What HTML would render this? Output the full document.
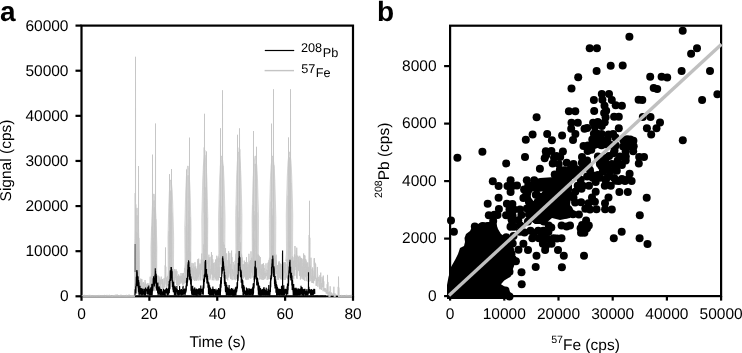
<!DOCTYPE html>
<html><head><meta charset="utf-8"><style>
html,body{margin:0;padding:0;background:#fff;}
svg{display:block;font-family:"Liberation Sans",sans-serif;}
svg{filter:grayscale(1);}
text{text-rendering:geometricPrecision;}
</style></head><body>
<svg width="742" height="353" viewBox="0 0 742 353">
<rect x="81.50" y="25.60" width="271.50" height="270.70" fill="none" stroke="#000" stroke-width="2.2"/>
<line x1="75.50" y1="296.30" x2="81.50" y2="296.30" stroke="#000" stroke-width="2.2"/>
<text x="68.50" y="301.10" text-anchor="end" font-size="15.5" font-weight="normal" >0</text>
<line x1="75.50" y1="251.18" x2="81.50" y2="251.18" stroke="#000" stroke-width="2.2"/>
<text x="68.50" y="256.08" text-anchor="end" font-size="15.5" font-weight="normal" >10000</text>
<line x1="75.50" y1="206.07" x2="81.50" y2="206.07" stroke="#000" stroke-width="2.2"/>
<text x="68.50" y="211.07" text-anchor="end" font-size="15.5" font-weight="normal" >20000</text>
<line x1="75.50" y1="160.95" x2="81.50" y2="160.95" stroke="#000" stroke-width="2.2"/>
<text x="68.50" y="166.05" text-anchor="end" font-size="15.5" font-weight="normal" >30000</text>
<line x1="75.50" y1="115.83" x2="81.50" y2="115.83" stroke="#000" stroke-width="2.2"/>
<text x="68.50" y="121.03" text-anchor="end" font-size="15.5" font-weight="normal" >40000</text>
<line x1="75.50" y1="70.72" x2="81.50" y2="70.72" stroke="#000" stroke-width="2.2"/>
<text x="68.50" y="76.02" text-anchor="end" font-size="15.5" font-weight="normal" >50000</text>
<line x1="75.50" y1="25.60" x2="81.50" y2="25.60" stroke="#000" stroke-width="2.2"/>
<text x="68.50" y="31.00" text-anchor="end" font-size="15.5" font-weight="normal" >60000</text>
<line x1="81.50" y1="296.30" x2="81.50" y2="300.80" stroke="#000" stroke-width="2.2"/>
<text x="81.50" y="318.90" text-anchor="middle" font-size="15.5" font-weight="normal" >0</text>
<line x1="149.38" y1="296.30" x2="149.38" y2="300.80" stroke="#000" stroke-width="2.2"/>
<text x="149.38" y="318.90" text-anchor="middle" font-size="15.5" font-weight="normal" >20</text>
<line x1="217.25" y1="296.30" x2="217.25" y2="300.80" stroke="#000" stroke-width="2.2"/>
<text x="217.25" y="318.90" text-anchor="middle" font-size="15.5" font-weight="normal" >40</text>
<line x1="285.12" y1="296.30" x2="285.12" y2="300.80" stroke="#000" stroke-width="2.2"/>
<text x="285.12" y="318.90" text-anchor="middle" font-size="15.5" font-weight="normal" >60</text>
<line x1="353.00" y1="296.30" x2="353.00" y2="300.80" stroke="#000" stroke-width="2.2"/>
<text x="353.00" y="318.90" text-anchor="middle" font-size="15.5" font-weight="normal" >80</text>
<text x="217.50" y="347.00" text-anchor="middle" font-size="15.5" font-weight="normal" >Time (s)</text>
<text transform="translate(11.2,160.5) rotate(-90)" text-anchor="middle" font-size="15.5">Signal (cps)</text>
<text x="0" y="21.1" font-size="28" font-weight="bold">a</text>
<line x1="264.8" y1="50.5" x2="294.2" y2="50.5" stroke="#000" stroke-width="1.2"/>
<line x1="264.6" y1="70.6" x2="294" y2="70.6" stroke="#c4c4c4" stroke-width="1.4"/>
<text x="301" y="52.3" font-size="12.7">208<tspan dx="0.6" dy="4.2">Pb</tspan></text>
<text x="301.3" y="72.6" font-size="12.7">57<tspan dx="0.4" dy="4.2">Fe</tspan></text>
<rect x="450.10" y="25.70" width="271.00" height="270.40" fill="none" stroke="#000" stroke-width="2.2"/>
<line x1="444.10" y1="296.10" x2="450.10" y2="296.10" stroke="#000" stroke-width="2.2"/>
<text x="436.60" y="300.70" text-anchor="end" font-size="15.5" font-weight="normal" >0</text>
<line x1="444.10" y1="238.60" x2="450.10" y2="238.60" stroke="#000" stroke-width="2.2"/>
<text x="436.60" y="243.20" text-anchor="end" font-size="15.5" font-weight="normal" >2000</text>
<line x1="444.10" y1="181.10" x2="450.10" y2="181.10" stroke="#000" stroke-width="2.2"/>
<text x="436.60" y="185.70" text-anchor="end" font-size="15.5" font-weight="normal" >4000</text>
<line x1="444.10" y1="123.60" x2="450.10" y2="123.60" stroke="#000" stroke-width="2.2"/>
<text x="436.60" y="128.20" text-anchor="end" font-size="15.5" font-weight="normal" >6000</text>
<line x1="444.10" y1="66.10" x2="450.10" y2="66.10" stroke="#000" stroke-width="2.2"/>
<text x="436.60" y="70.70" text-anchor="end" font-size="15.5" font-weight="normal" >8000</text>
<line x1="450.10" y1="296.10" x2="450.10" y2="300.60" stroke="#000" stroke-width="2.2"/>
<text x="450.10" y="318.90" text-anchor="middle" font-size="15.5" font-weight="normal" >0</text>
<line x1="504.30" y1="296.10" x2="504.30" y2="300.60" stroke="#000" stroke-width="2.2"/>
<text x="504.30" y="318.90" text-anchor="middle" font-size="15.5" font-weight="normal" >10000</text>
<line x1="558.50" y1="296.10" x2="558.50" y2="300.60" stroke="#000" stroke-width="2.2"/>
<text x="558.50" y="318.90" text-anchor="middle" font-size="15.5" font-weight="normal" >20000</text>
<line x1="612.70" y1="296.10" x2="612.70" y2="300.60" stroke="#000" stroke-width="2.2"/>
<text x="612.70" y="318.90" text-anchor="middle" font-size="15.5" font-weight="normal" >30000</text>
<line x1="666.90" y1="296.10" x2="666.90" y2="300.60" stroke="#000" stroke-width="2.2"/>
<text x="666.90" y="318.90" text-anchor="middle" font-size="15.5" font-weight="normal" >40000</text>
<line x1="721.10" y1="296.10" x2="721.10" y2="300.60" stroke="#000" stroke-width="2.2"/>
<text x="721.10" y="318.90" text-anchor="middle" font-size="15.5" font-weight="normal" >50000</text>
<text x="585.5" y="349.6" text-anchor="middle" font-size="15.5"><tspan font-size="10.6" dy="-7">57</tspan><tspan dy="7">Fe (cps)</tspan></text>
<text transform="translate(389,160.3) rotate(-90)" text-anchor="middle" font-size="15.5"><tspan font-size="10.6" dy="-7">208</tspan><tspan dy="7">Pb (cps)</tspan></text>
<text x="377" y="21.1" font-size="28" font-weight="bold">b</text>
<polygon points="134.30,290.25 134.84,282.25 134.66,257.62 135.38,233.00 135.92,218.00 136.70,208.00 137.30,208.00 138.08,218.00 138.62,233.00 139.34,257.62 139.16,282.25 139.70,290.25" fill="#dedede" stroke="#c8c8c8" stroke-width="0.7"/>
<polygon points="150.45,282.64 151.14,274.64 150.91,246.82 151.83,219.00 152.52,204.00 153.60,194.00 154.20,194.00 155.28,204.00 155.97,219.00 156.89,246.82 156.66,274.64 157.35,282.64" fill="#dedede" stroke="#c8c8c8" stroke-width="0.7"/>
<polygon points="167.50,279.15 168.16,271.15 167.94,238.07 168.82,205.00 169.48,190.00 170.50,180.00 171.10,180.00 172.12,190.00 172.78,205.00 173.66,238.07 173.44,271.15 174.10,279.15" fill="#dedede" stroke="#c8c8c8" stroke-width="0.7"/>
<polygon points="184.30,272.15 185.02,264.15 184.78,227.57 185.74,191.00 186.46,176.00 187.60,166.00 188.20,166.00 189.34,176.00 190.06,191.00 191.02,227.57 190.78,264.15 191.50,272.15" fill="#dedede" stroke="#c8c8c8" stroke-width="0.7"/>
<polygon points="201.35,263.57 202.04,255.57 201.81,217.79 202.73,180.00 203.42,165.00 204.50,155.00 205.10,155.00 206.18,165.00 206.87,180.00 207.79,217.79 207.56,255.57 208.25,263.57" fill="#dedede" stroke="#c8c8c8" stroke-width="0.7"/>
<polygon points="218.05,261.52 218.80,253.52 218.55,217.26 219.55,181.00 220.30,166.00 221.50,156.00 222.10,156.00 223.30,166.00 224.05,181.00 225.05,217.26 224.80,253.52 225.55,261.52" fill="#dedede" stroke="#c8c8c8" stroke-width="0.7"/>
<polygon points="235.20,261.95 235.92,253.95 235.68,215.47 236.64,177.00 237.36,162.00 238.50,152.00 239.10,152.00 240.24,162.00 240.96,177.00 241.92,215.47 241.68,253.95 242.40,261.95" fill="#dedede" stroke="#c8c8c8" stroke-width="0.7"/>
<polygon points="251.55,263.48 252.30,255.48 252.05,218.24 253.05,181.00 253.80,166.00 255.00,156.00 255.60,156.00 256.80,166.00 257.55,181.00 258.55,218.24 258.30,255.48 259.05,263.48" fill="#dedede" stroke="#c8c8c8" stroke-width="0.7"/>
<polygon points="268.85,264.00 269.60,256.00 269.35,218.50 270.35,181.00 271.10,166.00 272.30,156.00 272.90,156.00 274.10,166.00 274.85,181.00 275.85,218.50 275.60,256.00 276.35,264.00" fill="#dedede" stroke="#c8c8c8" stroke-width="0.7"/>
<polygon points="285.75,261.00 286.50,253.00 286.25,215.00 287.25,177.00 288.00,162.00 289.20,152.00 289.80,152.00 291.00,162.00 291.75,177.00 292.75,215.00 292.50,253.00 293.25,261.00" fill="#dedede" stroke="#c8c8c8" stroke-width="0.7"/>
<line x1="82.6" y1="296.3" x2="135" y2="296.3" stroke="#b4b4b4" stroke-width="2.4"/>
<line x1="326" y1="296.3" x2="352" y2="296.3" stroke="#b4b4b4" stroke-width="2.4"/>
<polyline points="82.00,296.18 82.30,295.25 82.60,295.34 82.90,295.84 83.20,295.99 83.50,295.83 83.80,295.80 84.10,296.16 84.40,295.68 84.70,294.91 85.00,295.10 85.30,296.13 85.60,295.72 85.90,296.10 86.20,295.93 86.50,295.88 86.80,295.62 87.10,296.06 87.40,296.09 87.70,295.72 88.00,295.59 88.30,295.14 88.60,295.92 88.90,295.73 89.20,294.86 89.50,295.63 89.80,295.87 90.10,295.36 90.40,295.16 90.70,296.17 91.00,295.57 91.30,296.04 91.60,295.68 91.90,295.93 92.20,295.70 92.50,295.99 92.80,295.82 93.10,295.47 93.40,296.06 93.70,295.63 94.00,295.96 94.30,296.03 94.60,295.43 94.90,295.30 95.20,295.74 95.50,295.61 95.80,294.99 96.10,296.11 96.40,295.83 96.70,295.68 97.00,295.23 97.30,295.62 97.60,295.76 97.90,295.92 98.20,295.53 98.50,295.27 98.80,295.77 99.10,295.78 99.40,294.96 99.70,295.96 100.00,296.02 100.30,295.65 100.60,295.89 100.90,296.19 101.20,295.96 101.50,295.59 101.80,295.78 102.10,296.13 102.40,295.86 102.70,295.83 103.00,295.44 103.30,295.78 103.60,296.08 103.90,295.76 104.20,295.32 104.50,294.95 104.80,295.10 105.10,295.58 105.40,295.87 105.70,296.13 106.00,295.50 106.30,295.32 106.60,295.32 106.90,295.80 107.20,295.29 107.50,295.08 107.80,295.99 108.10,295.28 108.40,296.03 108.70,295.14 109.00,294.78 109.30,294.96 109.60,295.80 109.90,295.71 110.20,295.09 110.50,295.91 110.80,295.68 111.10,295.99 111.40,296.19 111.70,296.06 112.00,295.69 112.30,295.93 112.60,295.98 112.90,296.13 113.20,296.04 113.50,295.30 113.80,295.86 114.10,295.36 114.40,296.07 114.70,295.19 115.00,295.27 115.30,295.83 115.60,294.72 115.90,296.16 116.20,295.88 116.50,295.19 116.80,295.27 117.10,294.40 117.40,295.63 117.70,295.75 118.00,295.78 118.30,295.62 118.60,296.01 118.90,295.96 119.20,296.07 119.50,295.43 119.80,296.18 120.10,295.56 120.40,295.91 120.70,295.97 121.00,294.70 121.30,295.19 121.60,295.64 121.90,295.79 122.20,295.79 122.50,295.82 122.80,295.27 123.10,295.63 123.40,295.49 123.70,296.12 124.00,295.71 124.30,295.69 124.60,295.86 124.90,295.41 125.20,295.82 125.50,296.14 125.80,296.02 126.10,295.96 126.40,294.85 126.70,296.15 127.00,296.04 127.30,295.44 127.60,295.80 127.90,295.75 128.20,295.69 128.50,294.79 128.80,295.67 129.10,294.92 129.40,294.71 129.70,295.63 130.00,295.93 130.30,295.88 130.60,295.81 130.90,295.82 131.20,296.06 131.50,296.08 131.80,295.15 132.10,296.08 132.40,295.68 132.70,296.11 133.00,295.87 133.30,295.77 133.60,295.63 133.90,295.98 134.20,295.98 134.50,290.59 134.66,290.70 134.82,290.04 134.98,295.19 135.14,291.97 135.20,193.07 135.30,295.22 135.46,284.92 135.50,56.80 135.62,294.76 135.78,287.95 135.80,204.43 135.94,274.89 136.10,276.38 136.26,274.48 136.42,289.30 136.58,232.36 136.74,292.01 136.90,293.56 137.06,215.37 137.22,238.04 137.38,260.79 137.54,265.88 137.70,285.78 137.86,281.87 138.02,282.76 138.18,288.47 138.20,232.40 138.34,290.35 138.50,288.76 138.50,166.00 138.66,281.80 138.80,237.93 138.82,278.36 138.98,292.12 139.14,282.36 139.30,289.61 139.46,288.94 139.62,284.65 139.78,280.13 139.94,282.15 140.10,282.90 140.26,280.53 140.42,287.25 140.58,284.07 140.74,278.62 140.90,280.61 141.06,291.79 141.22,283.36 141.38,288.40 141.54,279.47 141.70,285.46 141.86,279.23 142.02,291.79 142.18,282.60 142.34,290.33 142.50,288.51 142.66,290.33 142.82,291.84 142.98,287.68 143.14,291.59 143.30,285.13 143.46,290.71 143.62,282.06 143.78,289.60 143.94,285.20 144.10,291.49 144.26,291.22 144.42,286.21 144.58,283.64 144.74,291.46 144.90,291.69 145.06,280.01 145.22,285.27 145.38,284.02 145.54,282.49 145.70,290.72 145.86,287.69 146.02,288.44 146.18,284.14 146.34,290.79 146.50,291.18 146.66,285.66 146.82,289.07 146.98,288.56 147.14,287.55 147.30,283.12 147.46,287.95 147.62,290.75 147.78,284.02 147.94,286.14 148.10,286.23 148.26,286.65 148.42,285.86 148.58,290.96 148.74,288.47 148.90,283.19 149.06,286.21 149.22,288.14 149.38,288.91 149.54,288.75 149.70,291.44 149.86,288.63 150.02,288.24 150.18,276.69 150.34,285.96 150.50,286.79 150.66,283.96 150.82,289.15 150.98,285.82 151.14,291.19 151.30,286.44 151.46,280.39 151.62,278.11 151.78,280.52 151.94,273.40 152.10,291.13 152.20,226.57 152.26,277.01 152.42,290.33 152.50,154.70 152.58,278.86 152.74,283.84 152.80,232.56 152.90,284.66 153.06,288.12 153.22,270.06 153.38,282.32 153.54,241.89 153.70,238.36 153.86,284.07 154.02,200.49 154.18,245.03 154.34,207.04 154.50,290.29 154.66,220.65 154.82,246.23 154.98,291.13 155.14,261.86 155.20,211.84 155.30,281.85 155.46,286.28 155.50,123.60 155.62,288.10 155.78,281.98 155.80,219.19 155.94,264.64 156.10,279.42 156.26,284.04 156.42,284.36 156.58,278.74 156.74,288.79 156.90,288.47 157.06,275.67 157.22,290.27 157.38,286.48 157.54,289.08 157.70,287.24 157.86,282.88 158.02,275.52 158.18,279.35 158.34,279.32 158.50,290.89 158.66,285.78 158.82,288.94 158.98,276.43 159.14,277.00 159.30,283.53 159.46,284.09 159.62,281.44 159.78,278.48 159.94,288.35 160.10,285.68 160.26,279.93 160.42,289.04 160.58,279.73 160.74,290.07 160.90,280.21 161.06,279.10 161.22,276.63 161.38,282.58 161.54,283.18 161.70,284.18 161.86,282.20 162.02,279.20 162.18,288.44 162.34,280.67 162.50,279.08 162.66,289.82 162.82,279.30 162.98,279.04 163.14,282.02 163.30,282.49 163.46,285.55 163.62,288.96 163.78,287.71 163.94,284.09 164.10,278.07 164.26,279.14 164.42,278.94 164.58,287.11 164.74,286.57 164.90,287.49 165.06,285.41 165.20,265.24 165.22,278.51 165.38,274.98 165.50,247.50 165.54,277.50 165.70,277.68 165.80,266.72 165.86,283.68 166.02,284.51 166.18,281.73 166.34,277.78 166.50,283.43 166.66,287.26 166.82,278.01 166.98,278.49 167.14,277.22 167.30,286.18 167.46,276.05 167.62,278.52 167.78,280.11 167.94,284.55 168.10,282.13 168.26,277.47 168.42,286.93 168.58,284.78 168.74,280.05 168.90,287.86 169.06,287.44 169.20,231.14 169.22,285.43 169.38,270.98 169.50,174.20 169.54,276.02 169.70,272.58 169.80,235.89 169.86,285.81 170.02,288.38 170.18,247.09 170.34,254.98 170.50,199.77 170.66,257.38 170.82,190.52 170.98,230.95 171.14,283.03 171.20,209.30 171.30,249.67 171.46,275.28 171.50,169.00 171.62,276.26 171.78,246.93 171.80,212.66 171.94,268.80 172.10,270.49 172.26,287.04 172.42,270.85 172.58,287.61 172.74,282.44 172.90,271.04 173.06,285.48 173.22,287.34 173.38,285.90 173.54,283.32 173.70,283.76 173.86,277.06 174.02,285.90 174.18,282.12 174.34,286.23 174.50,285.50 174.66,269.04 174.82,272.59 174.98,280.26 175.14,275.84 175.30,271.35 175.46,278.13 175.62,272.86 175.78,276.89 175.94,271.80 176.10,269.30 176.26,283.05 176.42,277.14 176.58,285.09 176.74,280.27 176.90,271.12 177.06,278.41 177.22,278.16 177.38,285.80 177.54,275.88 177.70,284.32 177.86,278.25 178.02,284.66 178.18,284.02 178.34,285.50 178.50,283.03 178.66,274.40 178.82,285.79 178.98,284.57 179.14,279.73 179.30,275.75 179.46,281.66 179.62,284.34 179.78,280.22 179.94,282.61 180.10,278.62 180.26,280.91 180.42,276.44 180.58,283.52 180.74,280.46 180.90,276.12 181.06,273.00 181.22,282.56 181.38,275.96 181.54,281.77 181.70,280.94 181.86,281.63 182.02,283.55 182.18,283.35 182.34,274.71 182.50,284.73 182.66,273.44 182.82,277.51 182.98,279.11 183.14,273.55 183.30,284.36 183.46,272.92 183.62,281.90 183.78,284.25 183.94,275.57 184.10,276.92 184.26,283.29 184.42,276.27 184.58,278.88 184.74,282.01 184.90,267.97 185.06,275.91 185.22,281.15 185.38,282.86 185.54,269.64 185.70,282.68 185.86,277.89 186.02,263.11 186.18,270.55 186.20,226.37 186.34,273.86 186.50,278.95 186.50,169.50 186.66,265.98 186.80,231.11 186.82,282.44 186.98,251.22 187.14,283.06 187.30,264.29 187.46,277.71 187.62,282.69 187.78,264.23 187.94,246.97 188.10,175.31 188.26,280.08 188.42,225.31 188.58,224.49 188.74,272.87 188.90,244.80 189.06,255.69 189.20,210.95 189.22,281.16 189.38,274.50 189.50,137.70 189.54,277.36 189.70,263.61 189.80,217.06 189.86,264.14 190.02,280.57 190.18,280.00 190.34,278.29 190.50,251.80 190.66,277.56 190.82,272.27 190.98,267.31 191.14,271.08 191.30,265.76 191.46,267.01 191.62,281.25 191.78,281.06 191.94,262.90 192.10,269.45 192.26,278.58 192.42,273.37 192.58,268.01 192.74,269.41 192.90,274.92 193.06,277.20 193.22,263.30 193.38,279.82 193.54,269.41 193.70,274.70 193.86,271.15 194.02,273.62 194.18,266.72 194.34,281.01 194.50,280.65 194.66,279.67 194.82,276.22 194.98,262.29 195.14,280.12 195.30,280.59 195.46,269.06 195.62,266.46 195.78,279.45 195.94,270.48 196.10,277.51 196.26,279.60 196.42,268.61 196.58,272.03 196.74,280.90 196.90,271.15 197.06,279.96 197.22,274.04 197.38,266.35 197.54,278.35 197.70,276.39 197.86,259.14 198.02,268.67 198.18,260.92 198.34,275.39 198.50,276.96 198.66,258.68 198.82,280.50 198.98,279.79 199.14,264.91 199.30,266.66 199.46,274.38 199.62,269.45 199.78,266.33 199.94,263.43 200.10,277.92 200.26,279.73 200.42,270.87 200.58,270.95 200.74,263.90 200.90,280.52 201.06,266.87 201.22,259.56 201.38,263.90 201.54,270.01 201.70,253.60 201.86,264.01 202.02,264.31 202.18,269.88 202.34,275.54 202.50,262.14 202.66,279.27 202.82,280.11 202.98,258.75 203.14,266.22 203.30,260.11 203.46,280.81 203.62,273.11 203.78,244.41 203.94,251.39 204.10,279.64 204.20,147.48 204.26,212.59 204.42,185.94 204.50,113.80 204.58,266.81 204.74,159.21 204.80,150.29 204.90,276.23 205.06,261.70 205.22,187.27 205.38,258.31 205.54,263.53 205.70,239.24 205.86,250.62 206.02,247.52 206.18,272.13 206.20,212.72 206.34,266.91 206.50,276.16 206.50,151.50 206.66,261.92 206.80,217.82 206.82,255.74 206.98,273.42 207.14,279.86 207.30,272.49 207.46,276.62 207.62,269.08 207.78,270.58 207.94,278.87 208.10,261.47 208.26,276.96 208.42,274.32 208.58,258.61 208.74,256.85 208.90,254.68 209.06,272.33 209.22,258.65 209.38,257.36 209.54,260.78 209.70,268.81 209.86,279.85 210.02,270.92 210.18,270.73 210.34,278.42 210.50,268.24 210.66,267.23 210.82,264.44 210.98,256.76 211.14,264.33 211.30,272.71 211.46,252.07 211.62,274.41 211.78,263.83 211.94,269.96 212.10,254.95 212.26,280.23 212.42,268.47 212.58,275.17 212.74,259.25 212.90,273.15 213.06,273.69 213.22,277.80 213.38,275.03 213.54,263.09 213.70,272.13 213.86,280.37 214.02,273.75 214.18,263.79 214.34,262.52 214.50,276.99 214.66,274.21 214.82,275.04 214.98,274.17 215.14,278.20 215.30,272.45 215.46,267.17 215.62,259.58 215.78,278.84 215.94,271.33 216.10,280.32 216.26,259.48 216.42,272.48 216.58,278.37 216.74,255.75 216.90,280.50 217.06,276.15 217.22,278.86 217.38,277.55 217.54,267.49 217.70,273.24 217.86,258.40 218.02,280.49 218.18,256.51 218.34,271.14 218.50,280.06 218.66,266.94 218.82,268.23 218.98,271.27 219.14,257.95 219.30,270.22 219.46,277.94 219.62,266.90 219.78,275.99 219.94,270.48 220.10,262.09 220.20,200.32 220.26,264.52 220.42,251.32 220.50,128.30 220.58,260.45 220.74,242.17 220.80,206.32 220.90,243.34 221.06,239.85 221.22,223.53 221.38,217.85 221.54,249.64 221.70,253.14 221.86,276.06 222.02,273.86 222.18,184.36 222.20,160.18 222.34,240.52 222.50,199.18 222.50,90.30 222.66,274.02 222.80,166.00 222.82,264.07 222.98,243.86 223.14,242.15 223.30,275.45 223.46,276.31 223.62,253.57 223.78,274.48 223.94,277.93 224.10,244.60 224.26,261.33 224.42,263.32 224.58,257.24 224.74,278.91 224.90,263.16 225.06,274.24 225.22,259.25 225.38,260.08 225.54,248.22 225.70,273.39 225.86,264.98 226.02,267.91 226.18,268.05 226.34,273.66 226.50,278.62 226.66,253.36 226.82,258.03 226.98,263.43 227.14,279.22 227.30,277.86 227.46,266.64 227.62,280.33 227.78,280.29 227.94,260.21 228.10,263.21 228.26,277.51 228.42,268.79 228.58,251.17 228.74,275.74 228.90,262.77 229.06,273.47 229.22,273.44 229.38,260.62 229.54,267.54 229.70,261.51 229.86,252.90 230.02,260.82 230.18,277.61 230.34,264.68 230.50,273.85 230.66,279.02 230.82,274.88 230.98,263.73 231.14,279.14 231.30,266.81 231.46,252.05 231.62,250.64 231.78,263.00 231.94,257.10 232.10,280.15 232.26,279.90 232.42,269.15 232.58,273.36 232.74,270.11 232.90,273.24 233.06,264.09 233.22,262.06 233.38,275.75 233.54,272.51 233.70,275.04 233.86,277.11 234.02,279.78 234.18,275.83 234.34,278.04 234.50,279.11 234.66,264.61 234.82,275.65 234.98,262.71 235.14,261.09 235.30,263.96 235.46,266.95 235.62,279.00 235.78,280.22 235.94,253.58 236.10,260.41 236.26,261.00 236.42,266.30 236.58,279.01 236.74,271.15 236.90,279.03 237.06,260.27 237.20,205.41 237.22,276.25 237.38,271.92 237.50,134.80 237.54,256.02 237.70,264.57 237.80,211.29 237.86,264.53 238.02,260.87 238.18,237.87 238.34,234.26 238.50,232.87 238.66,239.97 238.82,217.61 238.98,255.21 239.14,247.83 239.20,147.65 239.30,151.23 239.46,237.07 239.50,128.40 239.62,184.26 239.78,234.30 239.80,149.25 239.94,208.98 240.10,253.33 240.26,277.20 240.42,242.46 240.58,265.21 240.74,267.87 240.90,253.64 241.06,270.63 241.22,268.00 241.38,272.64 241.54,254.61 241.70,265.53 241.86,269.65 242.02,257.40 242.18,274.06 242.34,274.21 242.50,273.45 242.66,264.39 242.82,273.70 242.98,274.93 243.14,270.29 243.30,273.90 243.46,278.48 243.62,274.48 243.78,263.97 243.94,273.81 244.10,275.69 244.26,260.63 244.42,266.34 244.58,262.90 244.74,277.29 244.90,267.44 245.06,275.48 245.22,269.44 245.38,261.99 245.54,279.32 245.70,279.31 245.86,279.54 246.02,266.81 246.18,263.40 246.34,278.94 246.50,257.17 246.66,271.36 246.82,280.05 246.98,277.61 247.14,262.22 247.30,279.54 247.46,269.02 247.62,267.06 247.78,268.99 247.94,276.65 248.10,263.87 248.26,267.62 248.42,276.62 248.58,279.49 248.74,266.42 248.90,253.83 249.06,255.41 249.22,267.86 249.38,264.86 249.54,278.14 249.70,265.13 249.86,261.30 250.02,277.64 250.18,270.11 250.34,272.74 250.50,260.04 250.66,277.25 250.82,278.75 250.98,251.34 251.14,259.13 251.30,261.10 251.46,272.57 251.62,258.14 251.78,264.17 251.94,257.75 252.10,277.63 252.26,260.16 252.42,273.43 252.58,263.46 252.74,275.16 252.90,265.98 253.06,260.32 253.20,204.88 253.22,257.14 253.38,262.02 253.50,131.00 253.54,279.96 253.70,257.72 253.80,211.04 253.86,255.27 254.02,255.61 254.18,238.73 254.34,275.01 254.50,276.41 254.66,267.46 254.82,215.14 254.98,230.21 255.14,165.34 255.30,163.75 255.46,167.07 255.62,187.35 255.78,211.37 255.94,257.13 256.10,279.23 256.20,207.43 256.26,241.27 256.42,261.16 256.50,146.80 256.58,268.39 256.74,253.82 256.80,212.48 256.90,272.60 257.06,261.04 257.22,279.59 257.38,258.19 257.54,272.72 257.70,278.07 257.86,263.07 258.02,254.32 258.18,276.38 258.34,255.11 258.50,262.32 258.66,267.03 258.82,268.64 258.98,263.67 259.14,273.30 259.30,255.79 259.46,261.45 259.62,279.51 259.78,276.40 259.94,276.21 260.10,274.39 260.26,257.06 260.42,270.17 260.58,275.83 260.74,279.10 260.90,279.23 261.06,264.74 261.22,265.76 261.38,275.13 261.54,268.56 261.70,279.49 261.86,277.67 262.02,266.28 262.18,263.95 262.34,279.86 262.50,278.52 262.66,264.03 262.82,264.09 262.98,275.84 263.14,277.79 263.30,273.09 263.46,263.28 263.62,279.83 263.78,265.62 263.94,265.00 264.10,270.50 264.26,268.11 264.42,274.78 264.58,273.11 264.74,279.17 264.90,271.23 265.06,271.07 265.22,278.29 265.38,273.03 265.54,276.00 265.70,276.45 265.86,265.94 266.02,263.33 266.18,270.55 266.34,269.73 266.50,276.04 266.66,274.58 266.82,272.90 266.98,277.43 267.14,279.76 267.30,279.97 267.46,276.46 267.62,269.68 267.78,278.69 267.94,262.73 268.10,268.72 268.26,265.37 268.42,279.31 268.58,261.77 268.74,274.59 268.90,269.67 269.06,259.95 269.22,270.31 269.38,277.25 269.54,278.97 269.70,278.58 269.86,257.73 270.02,266.40 270.18,262.98 270.34,279.56 270.50,265.00 270.66,257.74 270.82,258.86 270.98,276.10 271.14,273.12 271.20,201.73 271.30,280.00 271.46,270.13 271.50,123.70 271.62,257.50 271.78,246.51 271.80,208.23 271.94,240.48 272.10,276.73 272.26,277.52 272.42,245.97 272.58,274.04 272.74,215.56 272.90,220.82 273.06,261.37 273.20,159.58 273.22,179.95 273.38,201.23 273.50,89.30 273.54,250.23 273.70,265.68 273.80,165.44 273.86,265.24 274.02,273.28 274.18,266.93 274.34,254.03 274.50,275.05 274.66,268.19 274.82,261.58 274.98,279.64 275.14,256.15 275.30,279.96 275.46,274.28 275.62,272.26 275.78,260.19 275.94,269.01 276.10,254.71 276.26,264.00 276.42,261.67 276.58,272.94 276.74,273.99 276.90,270.72 277.06,279.95 277.22,279.14 277.38,271.31 277.54,264.99 277.70,276.93 277.86,275.94 278.02,277.67 278.18,272.24 278.34,279.59 278.50,262.48 278.66,279.66 278.82,267.77 278.98,271.67 279.14,261.15 279.30,274.26 279.46,277.73 279.62,275.91 279.78,262.83 279.94,274.26 280.10,276.17 280.26,272.55 280.42,263.77 280.58,279.28 280.74,267.72 280.90,277.63 281.06,264.05 281.22,267.20 281.38,275.71 281.54,278.61 281.70,278.94 281.86,265.42 282.02,279.91 282.18,267.67 282.34,253.49 282.50,279.90 282.66,277.19 282.82,263.61 282.98,276.06 283.14,270.09 283.30,276.30 283.46,262.65 283.62,264.95 283.78,278.85 283.94,279.86 284.10,279.78 284.26,262.28 284.42,268.60 284.58,270.79 284.74,273.21 284.90,262.09 285.06,261.99 285.22,279.92 285.38,262.56 285.54,263.52 285.70,265.76 285.86,264.05 286.02,266.69 286.18,277.81 286.34,273.81 286.50,274.68 286.66,274.24 286.82,273.06 286.98,274.35 287.14,258.96 287.30,279.12 287.46,273.11 287.62,263.82 287.78,266.55 287.94,261.86 288.10,263.50 288.20,195.73 288.26,253.89 288.42,276.45 288.50,137.50 288.58,243.93 288.74,230.80 288.80,200.59 288.90,263.33 289.06,186.14 289.22,185.19 289.38,157.45 289.54,247.43 289.70,243.77 289.86,276.90 290.02,269.57 290.18,224.86 290.20,176.04 290.34,279.88 290.50,239.81 290.50,89.30 290.66,269.64 290.80,183.27 290.82,270.26 290.98,275.91 291.14,257.97 291.30,258.20 291.46,275.84 291.62,279.62 291.78,262.27 291.94,271.88 292.10,257.59 292.26,273.81 292.42,256.28 292.58,270.07 292.74,263.03 292.90,257.06 293.06,269.93 293.22,279.19 293.38,260.96 293.54,263.09 293.70,279.29 293.86,260.77 294.02,270.13 294.18,274.64 294.34,262.51 294.50,254.48 294.66,259.21 294.82,275.91 294.98,245.99 295.14,262.54 295.30,264.66 295.46,265.58 295.62,266.87 295.78,256.97 295.94,255.65 296.10,270.01 296.26,261.62 296.42,250.30 296.58,278.03 296.74,247.66 296.90,258.56 297.06,278.96 297.22,271.88 297.38,272.21 297.54,270.32 297.70,255.55 297.86,261.20 298.02,266.41 298.18,264.15 298.34,270.29 298.50,256.79 298.66,270.21 298.82,269.17 298.98,271.16 299.14,262.31 299.30,273.51 299.46,276.02 299.62,268.37 299.78,255.81 299.94,274.15 300.10,273.92 300.26,258.83 300.42,279.62 300.58,257.53 300.74,278.80 300.90,261.39 301.06,263.54 301.22,277.16 301.38,276.30 301.54,258.10 301.70,262.18 301.86,260.14 302.02,272.20 302.18,278.80 302.34,266.20 302.50,267.92 302.66,275.68 302.82,258.82 302.98,258.91 303.14,279.39 303.30,262.93 303.46,279.55 303.62,253.48 303.78,256.60 303.94,255.27 304.10,275.99 304.26,255.17 304.42,266.98 304.58,273.76 304.74,280.90 304.90,255.58 305.06,268.89 305.22,270.35 305.38,276.36 305.54,260.74 305.70,259.02 305.86,277.34 306.02,264.55 306.18,260.49 306.34,281.11 306.50,263.26 306.66,263.25 306.82,264.47 306.98,273.91 307.14,262.93 307.30,275.19 307.46,267.44 307.62,276.13 307.78,262.31 307.94,268.72 308.10,281.56 308.26,270.75 308.42,266.77 308.58,272.19 308.74,270.56 308.90,275.64 309.06,275.85 309.20,234.97 309.22,272.46 309.38,281.58 309.50,200.80 309.54,259.13 309.70,277.12 309.80,237.82 309.86,277.66 310.02,267.92 310.18,275.13 310.34,270.14 310.50,265.78 310.66,276.83 310.82,281.23 310.98,257.73 311.14,272.73 311.30,274.45 311.46,279.36 311.62,276.77 311.78,276.26 311.94,282.85 312.10,269.07 312.26,274.10 312.42,282.94 312.58,267.44 312.74,282.39 312.90,270.56 313.06,282.28 313.22,275.99 313.38,280.38 313.54,283.12 313.70,283.30 313.86,267.35 314.02,265.63 314.18,258.28 314.34,265.41 314.50,258.30 314.66,280.77 314.82,271.59 314.98,278.34 315.14,262.77 315.30,266.91 315.46,278.80 315.62,264.16 315.78,268.66 315.94,274.33 316.10,285.73 316.26,282.52 316.42,278.82 316.58,285.85 316.74,284.68 316.90,277.65 317.06,283.43 317.22,281.04 317.38,266.98 317.54,273.48 317.70,274.36 317.86,286.80 318.02,283.70 318.18,280.82 318.34,279.58 318.50,280.67 318.66,280.25 318.82,276.80 318.98,283.85 319.14,284.94 319.30,287.37 319.46,288.24 319.62,289.07 319.78,282.47 319.94,275.23 320.10,289.26 320.26,278.35 320.42,281.72 320.58,276.81 320.74,272.64 320.90,289.08 321.06,287.33 321.22,286.89 321.38,283.26 321.54,289.80 321.70,288.02 321.86,286.38 322.02,276.79 322.18,283.66 322.34,287.21 322.50,286.61 322.66,286.97 322.82,284.88 322.98,278.54 323.14,291.28 323.30,275.61 323.46,286.60 323.62,285.96 323.78,281.34 323.94,286.18 324.10,290.34 324.26,288.60 324.42,288.09 324.58,291.16 324.74,291.24 324.90,290.92 325.06,291.79 325.22,291.90 325.38,289.08 325.54,288.91 325.70,288.16 325.86,291.78 326.02,289.79 326.18,293.45 326.34,292.67 326.50,292.88 326.66,293.22 326.82,289.64 326.98,291.31 327.14,293.84 327.20,284.18 327.30,292.95 327.46,292.90 327.50,274.90 327.62,283.18 327.78,294.50 327.80,284.96 327.94,282.13 328.10,291.13 328.26,293.80 328.42,293.93 328.58,292.05 328.74,295.15 328.90,292.15 329.06,294.21 329.22,292.69 329.38,291.53 329.54,293.81 329.70,295.69 329.86,295.81 330.02,293.12 330.18,286.26 330.34,292.74 330.50,295.57 330.66,293.82 330.82,292.74 330.98,293.91 331.14,294.49 331.30,292.50 331.46,294.41 331.62,293.66 331.78,293.83 331.94,293.43 332.10,295.72 332.26,294.14 332.42,295.86 332.58,295.09 332.74,295.01 332.90,294.07 333.06,293.81 333.22,292.91 333.38,293.22 333.54,293.48 333.70,294.70 333.86,286.76 334.02,294.23 334.18,295.99 334.34,296.07 334.50,294.54 334.66,295.75 334.82,293.25 334.98,293.57 335.14,296.10 335.30,295.37 335.46,295.47 335.62,295.44 335.78,294.91 335.94,294.47 336.00,294.73 336.30,295.62 336.60,295.96 336.90,295.94 337.20,295.07 337.50,295.43 337.80,295.15 338.10,295.53 338.20,286.77 338.40,295.98 338.50,276.60 338.70,295.79 338.80,287.62 339.00,295.86 339.30,296.12 339.60,295.47 339.90,296.01 340.20,295.84 340.50,296.17 340.80,296.08 341.10,295.91 341.40,296.14 341.70,295.23 342.00,295.34 342.30,295.85 342.60,295.86 342.90,295.89 343.20,295.58 343.50,295.73 343.80,295.70 344.10,295.64 344.40,295.80 344.70,296.06 345.00,295.66 345.30,295.49 345.60,295.57 345.90,295.98 346.20,295.98 346.50,294.83 346.80,295.65 347.10,296.08 347.40,295.47 347.70,295.34 348.00,296.08 348.30,295.43 348.60,295.84 348.90,295.49 349.20,295.64 349.50,295.73 349.80,295.46 350.10,295.59 350.40,295.46 350.70,295.48 351.00,295.96 351.30,294.66 351.60,295.02 351.90,295.47" fill="none" stroke="#c6c6c6" stroke-width="0.9" stroke-linejoin="bevel"/>
<polyline points="135.00,295.48 135.13,289.16 135.26,291.38 135.39,291.16 135.52,291.29 135.65,286.33 135.78,290.22 135.91,293.57 136.04,283.96 136.17,283.61 136.30,276.84 136.43,286.33 136.56,280.76 136.69,270.60 136.82,281.65 136.95,270.12 137.08,277.36 137.21,271.61 137.34,276.26 137.47,285.94 137.60,277.14 137.73,281.51 137.86,286.40 137.99,276.40 138.12,276.95 138.25,288.35 138.38,280.03 138.51,292.23 138.64,280.23 138.77,289.49 138.90,294.54 139.03,282.31 139.16,295.51 139.29,291.53 139.42,293.16 139.55,287.03 139.68,292.76 139.81,290.56 139.94,285.85 140.07,286.20 140.20,294.52 140.33,291.55 140.46,294.77 140.59,288.07 140.72,290.32 140.85,293.13 140.98,288.63 141.11,291.82 141.24,288.14 141.37,290.53 141.50,294.32 141.63,294.55 141.76,295.39 141.89,290.86 142.02,288.88 142.15,293.44 142.28,295.21 142.41,288.64 142.54,292.03 142.67,294.56 142.80,294.83 142.93,291.05 143.06,293.20 143.19,292.88 143.32,294.69 143.45,291.49 143.58,293.98 143.71,288.87 143.84,292.71 143.97,291.20 144.10,290.04 144.23,293.41 144.36,295.42 144.49,288.81 144.62,295.15 144.75,292.58 144.88,293.87 145.01,294.00 145.14,295.04 145.27,290.44 145.40,295.59 145.53,287.53 145.66,294.00 145.79,294.27 145.92,293.67 146.05,293.44 146.18,288.80 146.31,291.27 146.44,288.89 146.57,289.93 146.70,288.87 146.83,289.09 146.96,289.77 147.09,290.41 147.22,291.25 147.35,289.56 147.48,294.14 147.61,294.23 147.74,293.25 147.87,286.74 148.00,290.12 148.13,292.13 148.26,289.34 148.39,294.68 148.52,293.17 148.65,293.17 148.78,285.48 148.91,289.15 149.04,290.35 149.17,288.82 149.30,291.28 149.43,295.52 149.56,293.44 149.69,292.66 149.82,291.61 149.95,295.07 150.08,291.62 150.21,289.15 150.34,289.03 150.47,295.32 150.60,291.39 150.73,288.05 150.86,287.34 150.99,295.56 151.12,289.58 151.25,294.45 151.38,287.46 151.51,294.88 151.64,287.37 151.77,284.45 151.90,283.80 152.03,284.64 152.16,295.15 152.29,293.26 152.42,289.83 152.55,286.16 152.68,290.86 152.81,290.69 152.94,289.44 153.07,286.08 153.20,278.14 153.33,283.11 153.46,280.71 153.59,276.34 153.72,283.50 153.85,279.54 153.98,284.24 154.11,284.13 154.24,279.68 154.37,286.38 154.50,283.46 154.63,277.99 154.76,279.65 154.89,274.80 155.02,278.51 155.15,274.18 155.28,268.35 155.41,277.99 155.54,270.95 155.67,283.16 155.80,283.72 155.93,273.91 156.06,274.05 156.19,274.49 156.32,288.46 156.45,275.77 156.58,288.07 156.71,290.23 156.84,290.37 156.97,290.01 157.10,283.22 157.23,289.77 157.36,287.12 157.49,288.03 157.62,293.14 157.75,289.38 157.88,282.46 158.01,293.43 158.14,295.58 158.27,293.34 158.40,287.23 158.53,289.22 158.66,289.64 158.79,286.81 158.92,291.98 159.05,293.93 159.18,286.42 159.31,287.78 159.44,294.47 159.57,288.27 159.70,290.15 159.83,287.67 159.96,295.58 160.09,291.83 160.22,289.05 160.35,291.10 160.48,295.50 160.61,292.83 160.74,288.94 160.87,290.59 161.00,294.70 161.13,290.11 161.26,289.58 161.39,289.05 161.52,292.36 161.65,291.37 161.78,295.54 161.91,295.53 162.04,294.93 162.17,294.89 162.30,291.82 162.43,292.06 162.56,293.56 162.69,292.02 162.82,291.63 162.95,291.92 163.08,290.24 163.21,292.49 163.34,295.57 163.47,289.49 163.60,288.97 163.73,290.16 163.86,290.37 163.99,289.49 164.12,294.30 164.25,295.48 164.38,295.07 164.51,295.33 164.64,290.00 164.77,290.94 164.90,293.14 165.03,294.61 165.16,295.60 165.29,295.58 165.42,289.67 165.55,292.66 165.68,289.22 165.81,292.89 165.94,288.81 166.07,290.91 166.20,292.16 166.33,290.44 166.46,287.75 166.59,293.52 166.72,290.50 166.85,292.20 166.98,289.57 167.11,294.92 167.24,292.22 167.37,288.81 167.50,295.16 167.63,295.36 167.76,288.87 167.89,290.75 168.02,290.18 168.15,294.12 168.28,287.88 168.41,293.38 168.54,293.30 168.67,294.77 168.80,291.96 168.93,283.91 169.06,291.76 169.19,281.04 169.32,293.08 169.45,290.42 169.58,289.48 169.71,279.43 169.84,288.94 169.97,280.42 170.10,279.95 170.23,271.61 170.36,270.27 170.49,279.58 170.62,281.10 170.75,274.98 170.88,278.13 171.01,267.09 171.14,275.65 171.27,274.93 171.40,266.98 171.53,271.75 171.66,269.06 171.79,270.57 171.92,280.59 172.05,271.42 172.18,272.19 172.31,283.33 172.44,287.09 172.57,280.26 172.70,281.82 172.83,289.07 172.96,289.55 173.09,283.48 173.22,290.83 173.35,292.00 173.48,292.07 173.61,281.68 173.74,287.94 173.87,289.59 174.00,290.41 174.13,290.89 174.26,288.07 174.39,295.28 174.52,289.59 174.65,294.30 174.78,287.69 174.91,285.82 175.04,295.60 175.17,290.25 175.30,286.69 175.43,288.36 175.56,291.35 175.69,292.55 175.82,294.46 175.95,295.56 176.08,294.49 176.21,293.63 176.34,291.43 176.47,288.36 176.60,288.73 176.73,291.44 176.86,286.10 176.99,290.40 177.12,292.09 177.25,289.46 177.38,289.52 177.51,291.95 177.64,294.73 177.77,294.88 177.90,289.94 178.03,292.42 178.16,295.51 178.29,294.79 178.42,291.90 178.55,295.42 178.68,293.09 178.81,290.09 178.94,294.16 179.07,290.38 179.20,290.92 179.33,294.44 179.46,294.29 179.59,286.01 179.72,289.01 179.85,294.68 179.98,295.02 180.11,291.18 180.24,289.44 180.37,294.72 180.50,290.19 180.63,290.71 180.76,294.62 180.89,293.79 181.02,294.33 181.15,290.47 181.28,291.48 181.41,289.08 181.54,295.37 181.67,291.37 181.80,294.17 181.93,292.18 182.06,289.91 182.19,292.76 182.32,291.23 182.45,292.49 182.58,290.39 182.71,294.91 182.84,286.89 182.97,293.94 183.10,285.81 183.23,291.86 183.36,291.58 183.49,291.14 183.62,294.72 183.75,293.25 183.88,291.91 184.01,289.29 184.14,289.83 184.27,294.20 184.40,288.91 184.53,289.13 184.66,289.02 184.79,288.90 184.92,288.89 185.05,295.18 185.18,294.45 185.31,293.70 185.44,290.33 185.57,289.28 185.70,293.03 185.83,289.80 185.96,285.90 186.09,291.82 186.22,284.78 186.35,290.39 186.48,280.61 186.61,284.81 186.74,278.06 186.87,282.41 187.00,277.77 187.13,286.34 187.26,284.07 187.39,279.72 187.52,282.42 187.65,269.57 187.78,276.59 187.91,264.44 188.04,276.70 188.17,262.28 188.30,269.42 188.43,269.05 188.56,260.22 188.69,264.84 188.82,267.33 188.95,261.43 189.08,272.24 189.21,268.53 189.34,278.64 189.47,279.66 189.60,266.96 189.73,269.96 189.86,270.28 189.99,275.52 190.12,274.51 190.25,273.80 190.38,280.35 190.51,277.14 190.64,284.38 190.77,276.72 190.90,276.87 191.03,289.75 191.16,290.96 191.29,278.64 191.42,289.12 191.55,293.77 191.68,286.35 191.81,291.15 191.94,294.92 192.07,293.01 192.20,293.61 192.33,288.84 192.46,287.57 192.59,294.91 192.72,285.70 192.85,294.94 192.98,288.00 193.11,289.85 193.24,292.42 193.37,293.29 193.50,294.44 193.63,295.26 193.76,293.01 193.89,292.60 194.02,295.56 194.15,291.84 194.28,288.73 194.41,294.92 194.54,289.33 194.67,288.15 194.80,287.47 194.93,289.73 195.06,292.90 195.19,291.82 195.32,293.44 195.45,295.24 195.58,294.04 195.71,292.86 195.84,289.49 195.97,295.18 196.10,295.41 196.23,288.82 196.36,288.93 196.49,291.66 196.62,289.43 196.75,295.44 196.88,288.92 197.01,294.50 197.14,295.56 197.27,295.50 197.40,293.04 197.53,293.09 197.66,289.96 197.79,293.94 197.92,290.39 198.05,289.28 198.18,289.34 198.31,289.19 198.44,294.37 198.57,289.52 198.70,291.93 198.83,295.52 198.96,294.39 199.09,287.97 199.22,289.28 199.35,295.49 199.48,291.83 199.61,290.50 199.74,293.62 199.87,288.87 200.00,294.78 200.13,293.83 200.26,293.70 200.39,291.22 200.52,295.48 200.65,295.14 200.78,285.45 200.91,290.28 201.04,289.49 201.17,290.07 201.30,291.64 201.43,290.66 201.56,288.87 201.69,291.84 201.82,289.11 201.95,294.54 202.08,293.19 202.21,290.12 202.34,291.87 202.47,290.26 202.60,288.56 202.73,293.31 202.86,294.32 202.99,287.43 203.12,287.25 203.25,285.37 203.38,294.70 203.51,279.51 203.64,284.12 203.77,278.39 203.90,288.60 204.03,284.59 204.16,280.84 204.29,274.78 204.42,282.03 204.55,280.11 204.68,273.87 204.81,278.73 204.94,269.56 205.07,262.16 205.20,261.31 205.33,271.07 205.46,261.81 205.59,259.94 205.72,263.32 205.85,275.57 205.98,277.21 206.11,276.15 206.24,273.44 206.37,272.70 206.50,269.10 206.63,279.83 206.76,273.57 206.89,283.47 207.02,281.28 207.15,274.25 207.28,280.00 207.41,277.92 207.54,275.73 207.67,283.80 207.80,278.41 207.93,287.65 208.06,281.67 208.19,282.75 208.32,282.05 208.45,294.11 208.58,282.83 208.71,288.86 208.84,282.45 208.97,286.75 209.10,284.30 209.23,295.55 209.36,286.03 209.49,293.13 209.62,285.27 209.75,290.28 209.88,291.72 210.01,290.55 210.14,295.44 210.27,289.45 210.40,287.98 210.53,287.46 210.66,293.74 210.79,288.94 210.92,289.96 211.05,295.53 211.18,292.24 211.31,295.10 211.44,294.22 211.57,289.77 211.70,290.65 211.83,290.32 211.96,293.44 212.09,289.04 212.22,290.39 212.35,295.08 212.48,293.29 212.61,290.02 212.74,290.18 212.87,286.41 213.00,295.55 213.13,295.35 213.26,293.39 213.39,294.68 213.52,288.80 213.65,295.09 213.78,295.56 213.91,290.04 214.04,294.55 214.17,294.73 214.30,290.76 214.43,291.75 214.56,289.09 214.69,290.48 214.82,292.16 214.95,292.39 215.08,293.33 215.21,291.67 215.34,290.23 215.47,295.30 215.60,295.01 215.73,290.92 215.86,295.58 215.99,288.80 216.12,295.04 216.25,292.07 216.38,292.39 216.51,293.36 216.64,294.47 216.77,295.40 216.90,294.69 217.03,290.29 217.16,293.01 217.29,292.09 217.42,295.13 217.55,294.69 217.68,289.40 217.81,295.08 217.94,292.29 218.07,295.04 218.20,295.28 218.33,289.15 218.46,289.39 218.59,288.10 218.72,295.32 218.85,291.67 218.98,292.21 219.11,295.21 219.24,289.08 219.37,290.07 219.50,293.58 219.63,295.54 219.76,288.42 219.89,295.39 220.02,288.81 220.15,284.26 220.28,295.22 220.41,295.22 220.54,280.27 220.67,291.46 220.80,278.64 220.93,276.97 221.06,287.80 221.19,283.33 221.32,283.90 221.45,283.16 221.58,276.87 221.71,276.69 221.84,266.98 221.97,268.01 222.10,273.68 222.23,271.26 222.36,271.19 222.49,257.91 222.62,267.57 222.75,256.25 222.88,270.89 223.01,258.40 223.14,262.74 223.27,261.14 223.40,262.22 223.53,263.35 223.66,266.52 223.79,266.14 223.92,268.06 224.05,269.91 224.18,269.01 224.31,279.67 224.44,283.97 224.57,271.96 224.70,279.46 224.83,285.96 224.96,274.68 225.09,282.97 225.22,280.67 225.35,290.21 225.48,291.54 225.61,291.97 225.74,290.87 225.87,282.11 226.00,282.42 226.13,282.28 226.26,293.72 226.39,295.39 226.52,294.09 226.65,294.23 226.78,284.72 226.91,286.83 227.04,288.04 227.17,294.85 227.30,288.07 227.43,295.27 227.56,287.32 227.69,287.71 227.82,288.29 227.95,295.30 228.08,292.63 228.21,288.55 228.34,295.49 228.47,293.85 228.60,293.33 228.73,292.87 228.86,295.04 228.99,292.62 229.12,285.11 229.25,295.48 229.38,289.52 229.51,290.11 229.64,294.05 229.77,288.88 229.90,295.50 230.03,294.53 230.16,293.75 230.29,295.34 230.42,293.59 230.55,289.88 230.68,294.25 230.81,289.15 230.94,295.04 231.07,294.28 231.20,295.03 231.33,290.26 231.46,288.11 231.59,294.07 231.72,288.91 231.85,288.92 231.98,289.90 232.11,292.17 232.24,293.73 232.37,295.03 232.50,295.59 232.63,294.09 232.76,295.30 232.89,288.85 233.02,288.89 233.15,295.60 233.28,295.57 233.41,290.78 233.54,290.38 233.67,294.63 233.80,289.89 233.93,295.30 234.06,295.29 234.19,295.28 234.32,294.17 234.45,290.27 234.58,295.56 234.71,294.68 234.84,288.88 234.97,290.13 235.10,293.07 235.23,289.47 235.36,295.53 235.49,287.14 235.62,294.07 235.75,292.09 235.88,290.16 236.01,295.35 236.14,289.42 236.27,286.43 236.40,292.43 236.53,290.48 236.66,292.27 236.79,287.95 236.92,290.70 237.05,282.14 237.18,289.01 237.31,283.48 237.44,288.34 237.57,285.24 237.70,274.55 237.83,277.37 237.96,280.84 238.09,279.30 238.22,277.28 238.35,263.10 238.48,270.73 238.61,270.91 238.74,257.66 238.87,263.05 239.00,258.79 239.13,250.92 239.26,257.90 239.39,256.04 239.52,265.74 239.65,258.52 239.78,260.42 239.91,257.24 240.04,271.35 240.17,267.17 240.30,271.08 240.43,274.72 240.56,277.23 240.69,269.47 240.82,272.83 240.95,271.55 241.08,270.29 241.21,282.84 241.34,271.50 241.47,282.29 241.60,281.26 241.73,274.75 241.86,288.18 241.99,285.62 242.12,283.47 242.25,285.35 242.38,289.37 242.51,279.43 242.64,291.84 242.77,280.56 242.90,283.69 243.03,295.12 243.16,293.01 243.29,286.50 243.42,287.60 243.55,293.38 243.68,285.07 243.81,295.60 243.94,286.28 244.07,286.24 244.20,291.61 244.33,286.99 244.46,292.92 244.59,291.75 244.72,290.46 244.85,294.24 244.98,292.50 245.11,291.34 245.24,292.19 245.37,295.50 245.50,290.62 245.63,292.61 245.76,294.77 245.89,291.91 246.02,290.72 246.15,292.84 246.28,293.26 246.41,287.53 246.54,288.84 246.67,294.72 246.80,295.11 246.93,295.50 247.06,289.28 247.19,292.61 247.32,293.72 247.45,294.75 247.58,295.08 247.71,294.65 247.84,288.26 247.97,293.52 248.10,291.86 248.23,291.58 248.36,290.38 248.49,291.88 248.62,291.67 248.75,291.75 248.88,295.45 249.01,295.32 249.14,288.18 249.27,294.36 249.40,294.73 249.53,291.32 249.66,294.90 249.79,293.39 249.92,294.68 250.05,289.47 250.18,291.99 250.31,288.82 250.44,291.76 250.57,294.66 250.70,290.37 250.83,295.60 250.96,294.52 251.09,295.38 251.22,289.00 251.35,290.04 251.48,293.39 251.61,290.39 251.74,288.95 251.87,288.84 252.00,288.86 252.13,294.74 252.26,289.99 252.39,293.68 252.52,295.56 252.65,286.67 252.78,289.89 252.91,295.40 253.04,295.51 253.17,283.63 253.30,294.55 253.43,293.14 253.56,292.62 253.69,283.09 253.82,286.71 253.95,288.40 254.08,287.40 254.21,285.38 254.34,275.88 254.47,281.69 254.60,278.02 254.73,266.63 254.86,276.93 254.99,276.52 255.12,273.91 255.25,260.83 255.38,266.94 255.51,269.11 255.64,273.87 255.77,277.48 255.90,267.38 256.03,278.98 256.16,276.93 256.29,268.47 256.42,279.91 256.55,279.63 256.68,284.90 256.81,285.35 256.94,277.22 257.07,280.48 257.20,284.71 257.33,282.02 257.46,283.08 257.59,277.98 257.72,279.48 257.85,283.72 257.98,288.67 258.11,290.52 258.24,281.85 258.37,294.75 258.50,283.07 258.63,290.46 258.76,291.36 258.89,285.35 259.02,295.55 259.15,285.44 259.28,286.59 259.41,293.05 259.54,287.96 259.67,286.32 259.80,294.78 259.93,293.25 260.06,295.60 260.19,292.71 260.32,289.51 260.45,288.03 260.58,289.85 260.71,290.02 260.84,291.54 260.97,295.46 261.10,295.23 261.23,292.63 261.36,295.33 261.49,292.18 261.62,294.56 261.75,295.53 261.88,289.33 262.01,293.78 262.14,290.59 262.27,288.89 262.40,294.21 262.53,294.82 262.66,292.40 262.79,291.41 262.92,290.99 263.05,293.39 263.18,293.88 263.31,295.52 263.44,289.03 263.57,288.85 263.70,294.02 263.83,288.32 263.96,287.12 264.09,288.82 264.22,294.96 264.35,293.48 264.48,294.69 264.61,289.06 264.74,289.38 264.87,295.59 265.00,289.94 265.13,293.88 265.26,295.15 265.39,295.05 265.52,293.87 265.65,295.57 265.78,290.29 265.91,294.72 266.04,295.14 266.17,289.19 266.30,287.66 266.43,294.25 266.56,294.28 266.69,290.52 266.82,295.28 266.95,294.63 267.08,295.48 267.21,291.39 267.34,293.18 267.47,295.39 267.60,294.31 267.73,290.90 267.86,295.19 267.99,288.80 268.12,294.15 268.25,289.59 268.38,295.49 268.51,294.58 268.64,291.89 268.77,284.95 268.90,294.52 269.03,295.51 269.16,289.84 269.29,290.24 269.42,292.70 269.55,293.98 269.68,295.12 269.81,295.60 269.94,294.34 270.07,293.06 270.20,290.18 270.33,281.53 270.46,292.01 270.59,278.02 270.72,287.27 270.85,276.23 270.98,280.84 271.11,275.03 271.24,277.42 271.37,279.36 271.50,266.66 271.63,267.51 271.76,275.69 271.89,263.56 272.02,267.23 272.15,259.15 272.28,261.57 272.41,259.12 272.54,261.37 272.67,263.09 272.80,255.52 272.93,267.32 273.06,258.62 273.19,266.54 273.32,273.86 273.45,273.49 273.58,274.73 273.71,276.90 273.84,266.53 273.97,266.83 274.10,268.70 274.23,268.55 274.36,275.30 274.49,284.03 274.62,279.34 274.75,285.99 274.88,277.99 275.01,288.51 275.14,275.89 275.27,287.05 275.40,282.19 275.53,287.74 275.66,279.43 275.79,283.57 275.92,292.85 276.05,281.55 276.18,288.49 276.31,289.94 276.44,283.89 276.57,295.58 276.70,292.86 276.83,284.84 276.96,291.58 277.09,286.70 277.22,292.13 277.35,288.94 277.48,286.85 277.61,289.51 277.74,294.89 277.87,295.46 278.00,288.53 278.13,291.13 278.26,293.00 278.39,288.53 278.52,290.23 278.65,292.13 278.78,294.99 278.91,289.09 279.04,293.29 279.17,289.12 279.30,292.62 279.43,288.81 279.56,295.42 279.69,289.83 279.82,291.13 279.95,294.03 280.08,289.30 280.21,292.19 280.34,289.08 280.47,289.71 280.60,289.63 280.73,294.93 280.86,292.12 280.99,291.86 281.12,295.38 281.25,289.71 281.38,288.82 281.51,285.65 281.64,290.04 281.77,289.38 281.90,291.92 282.03,295.29 282.16,293.35 282.29,290.13 282.42,290.78 282.55,292.39 282.60,250.50 282.68,292.43 282.81,295.51 282.94,288.03 283.07,295.57 283.20,295.18 283.33,291.66 283.46,294.06 283.59,288.80 283.72,295.32 283.85,285.28 283.98,292.72 284.11,292.04 284.24,293.23 284.37,295.00 284.50,294.10 284.63,291.28 284.76,293.13 284.89,289.18 285.02,290.64 285.15,290.52 285.28,288.83 285.41,293.69 285.54,292.61 285.67,289.72 285.80,289.85 285.93,289.12 286.06,290.78 286.19,295.60 286.32,295.55 286.45,289.84 286.58,292.59 286.71,294.57 286.84,292.54 286.97,289.11 287.10,286.88 287.23,286.28 287.36,291.72 287.49,283.52 287.62,292.44 287.75,294.36 287.88,290.58 288.01,284.63 288.14,290.38 288.27,277.62 288.40,275.17 288.53,285.95 288.66,280.94 288.79,274.14 288.92,270.58 289.05,271.32 289.18,266.48 289.31,272.80 289.44,272.05 289.57,261.70 289.70,273.19 289.83,271.58 289.96,259.80 290.09,261.08 290.22,273.60 290.35,267.54 290.48,277.89 290.61,266.83 290.74,277.28 290.87,278.50 291.00,280.42 291.13,276.05 291.26,276.37 291.39,279.62 291.52,272.74 291.65,276.30 291.78,285.61 291.91,277.71 292.04,275.61 292.17,290.00 292.30,282.20 292.43,286.73 292.56,279.86 292.69,282.65 292.82,288.60 292.95,291.53 293.08,290.64 293.21,295.47 293.34,294.42 293.47,284.29 293.60,294.11 293.73,283.99 293.86,294.24 293.99,294.76 294.12,295.59 294.25,294.10 294.38,288.52 294.51,294.68 294.64,294.93 294.77,294.97 294.90,291.08 295.03,287.69 295.16,295.57 295.29,292.67 295.42,295.31 295.55,295.30 295.68,295.38 295.81,295.03 295.94,292.77 296.07,295.43 296.20,287.81 296.33,289.66 296.46,289.19 296.59,289.79 296.72,290.67 296.85,295.15 296.98,295.44 297.11,295.12 297.24,289.96 297.37,290.04 297.50,292.24 297.63,295.58 297.76,288.86 297.89,288.73 298.02,295.59 298.15,292.47 298.28,295.29 298.41,292.70 298.54,288.80 298.67,288.83 298.80,289.38 298.93,289.23 299.06,288.80 299.19,290.00 299.32,293.05 299.45,294.87 299.58,295.34 299.71,292.18 299.84,294.53 299.97,291.06 300.10,294.96 300.23,289.00 300.36,288.95 300.49,292.31 300.62,290.88 300.75,289.59 300.88,294.83 301.01,285.71 301.14,290.05 301.27,294.33 301.40,289.04 301.53,289.67 301.66,292.85 301.79,289.45 301.92,294.72 302.05,287.62 302.18,287.22 302.31,291.35 302.44,292.01 302.57,291.95 302.70,295.37 302.83,288.80 302.96,295.07 303.09,289.40 303.22,289.60 303.35,295.49 303.48,295.41 303.61,290.84 303.74,295.22 303.87,289.84 304.00,289.85 304.13,292.47 304.26,294.32 304.39,289.48 304.52,289.36 304.65,289.16 304.78,294.40 304.91,291.13 305.04,288.80 305.17,293.89 305.30,295.60 305.43,295.14 305.56,294.89 305.69,295.08 305.82,292.99 305.95,290.73 306.08,295.58 306.21,293.12 306.34,292.59 306.47,292.97 306.60,290.95 306.73,291.26 306.86,289.43 306.99,289.29 307.12,293.02 307.25,294.91 307.38,295.53 307.51,291.24 307.64,292.05 307.77,291.57 307.90,292.23 308.03,294.73 308.16,293.27 308.29,294.54 308.42,289.30 308.50,272.30 308.55,288.86 308.68,289.72 308.81,289.69 308.94,286.84 309.07,290.34 309.20,292.32 309.33,289.05 309.46,293.49 309.59,290.68 309.72,291.84 309.85,288.99 309.98,290.38 310.11,291.07 310.24,289.88 310.37,292.32 310.50,291.13 310.63,295.13 310.76,294.14 310.89,295.47 311.02,289.87 311.15,291.00 311.28,293.77 311.41,289.62 311.54,289.35 311.67,295.29 311.80,294.87 311.93,295.25 312.06,290.20 312.19,292.44 312.32,293.75 312.45,292.34 312.58,290.84 312.71,289.84 312.84,295.12 312.97,292.01 313.10,295.31 313.23,294.84 313.36,292.22 313.49,291.37 313.62,294.54 313.75,288.96 313.88,292.32 314.01,288.81 314.14,294.13 314.27,291.02 314.40,291.01 314.53,291.39 314.66,289.14 314.79,293.62 314.92,293.15" fill="none" stroke="#000" stroke-width="1.1" stroke-linejoin="bevel"/>
<line x1="315" y1="296.3" x2="338" y2="296.3" stroke="#000" stroke-width="1.2" stroke-dasharray="3,2.2"/>
<line x1="135.1" y1="244" x2="135.1" y2="272" stroke="#4a4a4a" stroke-width="0.9"/>
<g fill="#000">
<polygon points="447,299 447,285 448.5,277 451,267 455,260 458,254 460,248 464,246 465,242 464.5,238 466,234 470,231 472,227 480,223 490,222 496,223 498,229 501,234 506,237 510,243 512,250 514.4,255 518.3,260 514.4,265 512,271.6 510.6,276.7 504.2,280.5 501,284.3 508.1,288.8 511.9,294.5 510.6,299"/>
<polygon points="528,184 532,180 540,178 555,177 565,176 572,178 572,190 570,205 575,212 570,218 560,220 552,218 545,224 535,224 529,219 527,212 526,200 527,190"/>
</g>
<g fill="#fff">
<ellipse cx="534" cy="196" rx="3.2" ry="5"/>
<circle cx="534" cy="186.5" r="1.5"/>
<circle cx="541" cy="191.6" r="1.3"/>
</g>
<g fill="#000">
<circle cx="589.7" cy="48.3" r="4.0"/>
<circle cx="596.9" cy="48.3" r="4.0"/>
<circle cx="610.7" cy="65.7" r="4.0"/>
<circle cx="596.6" cy="71.1" r="4.0"/>
<circle cx="629.4" cy="36.7" r="4.0"/>
<circle cx="622.7" cy="65.6" r="4.0"/>
<circle cx="682.7" cy="30.8" r="4.0"/>
<circle cx="697.0" cy="48.3" r="4.0"/>
<circle cx="691.1" cy="53.8" r="4.0"/>
<circle cx="681.6" cy="71.1" r="4.0"/>
<circle cx="710.0" cy="71.1" r="4.0"/>
<circle cx="578.2" cy="77.3" r="4.0"/>
<circle cx="571.5" cy="88.4" r="4.0"/>
<circle cx="650.2" cy="76.8" r="4.0"/>
<circle cx="661.6" cy="76.8" r="4.0"/>
<circle cx="667.2" cy="77.6" r="4.0"/>
<circle cx="653.7" cy="87.9" r="4.0"/>
<circle cx="657.2" cy="89.0" r="4.0"/>
<circle cx="702.1" cy="100.0" r="4.0"/>
<circle cx="717.4" cy="94.2" r="4.0"/>
<circle cx="601.8" cy="94.0" r="4.0"/>
<circle cx="609.0" cy="94.0" r="4.0"/>
<circle cx="593.9" cy="100.1" r="4.0"/>
<circle cx="602.4" cy="99.8" r="4.0"/>
<circle cx="611.8" cy="100.1" r="4.0"/>
<circle cx="615.7" cy="105.2" r="4.0"/>
<circle cx="621.9" cy="105.7" r="4.0"/>
<circle cx="604.5" cy="105.7" r="4.0"/>
<circle cx="606.2" cy="110.7" r="4.0"/>
<circle cx="594.2" cy="110.9" r="4.0"/>
<circle cx="604.1" cy="113.1" r="4.0"/>
<circle cx="614.1" cy="116.7" r="4.0"/>
<circle cx="618.8" cy="116.7" r="4.0"/>
<circle cx="605.6" cy="117.3" r="4.0"/>
<circle cx="593.1" cy="122.7" r="4.0"/>
<circle cx="597.8" cy="122.0" r="4.0"/>
<circle cx="604.7" cy="122.2" r="4.0"/>
<circle cx="587.2" cy="127.9" r="4.0"/>
<circle cx="618.8" cy="128.3" r="4.0"/>
<circle cx="638.6" cy="99.8" r="4.0"/>
<circle cx="642.3" cy="100.1" r="4.0"/>
<circle cx="642.8" cy="116.9" r="4.0"/>
<circle cx="650.5" cy="116.9" r="4.0"/>
<circle cx="660.0" cy="122.5" r="4.0"/>
<circle cx="646.9" cy="128.3" r="4.0"/>
<circle cx="656.5" cy="128.3" r="4.0"/>
<circle cx="536.6" cy="117.3" r="4.0"/>
<circle cx="568.9" cy="111.3" r="4.0"/>
<circle cx="575.3" cy="111.3" r="4.0"/>
<circle cx="571.5" cy="122.8" r="4.0"/>
<circle cx="577.8" cy="122.8" r="4.0"/>
<circle cx="571.2" cy="128.7" r="4.0"/>
<circle cx="532.6" cy="134.6" r="4.0"/>
<circle cx="547.2" cy="134.1" r="4.0"/>
<circle cx="551.9" cy="140.2" r="4.0"/>
<circle cx="562.1" cy="135.6" r="4.0"/>
<circle cx="545.8" cy="151.3" r="4.0"/>
<circle cx="551.4" cy="151.0" r="4.0"/>
<circle cx="544.7" cy="158.2" r="4.0"/>
<circle cx="554.0" cy="157.7" r="4.0"/>
<circle cx="562.9" cy="151.4" r="4.0"/>
<circle cx="560.2" cy="157.1" r="4.0"/>
<circle cx="552.7" cy="163.5" r="4.0"/>
<circle cx="566.7" cy="162.8" r="4.0"/>
<circle cx="539.9" cy="168.8" r="4.0"/>
<circle cx="575.4" cy="134.1" r="4.0"/>
<circle cx="573.0" cy="140.0" r="4.0"/>
<circle cx="594.9" cy="127.0" r="4.0"/>
<circle cx="601.8" cy="126.1" r="4.0"/>
<circle cx="597.2" cy="133.8" r="4.0"/>
<circle cx="596.5" cy="139.1" r="4.0"/>
<circle cx="601.6" cy="134.1" r="4.0"/>
<circle cx="594.1" cy="145.0" r="4.0"/>
<circle cx="599.0" cy="144.3" r="4.0"/>
<circle cx="583.5" cy="145.9" r="4.0"/>
<circle cx="587.6" cy="151.1" r="4.0"/>
<circle cx="582.0" cy="157.0" r="4.0"/>
<circle cx="581.9" cy="162.8" r="4.0"/>
<circle cx="457.4" cy="157.7" r="4.0"/>
<circle cx="482.4" cy="151.8" r="4.0"/>
<circle cx="492.8" cy="181.3" r="4.0"/>
<circle cx="498.6" cy="186.0" r="4.0"/>
<circle cx="525.8" cy="139.8" r="4.0"/>
<circle cx="525.0" cy="157.1" r="4.0"/>
<circle cx="506.2" cy="163.5" r="4.0"/>
<circle cx="554.7" cy="174.6" r="4.0"/>
<circle cx="510.6" cy="180.2" r="4.0"/>
<circle cx="526.8" cy="180.2" r="4.0"/>
<circle cx="534.2" cy="180.2" r="4.0"/>
<circle cx="507.5" cy="185.9" r="4.0"/>
<circle cx="517.0" cy="185.6" r="4.0"/>
<circle cx="528.2" cy="186.0" r="4.0"/>
<circle cx="541.7" cy="186.0" r="4.0"/>
<circle cx="549.6" cy="186.0" r="4.0"/>
<circle cx="556.0" cy="182.8" r="4.0"/>
<circle cx="512.5" cy="186.0" r="4.0"/>
<circle cx="510.6" cy="192.0" r="4.0"/>
<circle cx="498.6" cy="197.8" r="4.0"/>
<circle cx="487.7" cy="203.7" r="4.0"/>
<circle cx="506.9" cy="203.7" r="4.0"/>
<circle cx="512.4" cy="204.0" r="4.0"/>
<circle cx="498.9" cy="208.9" r="4.0"/>
<circle cx="509.5" cy="209.6" r="4.0"/>
<circle cx="514.0" cy="209.5" r="4.0"/>
<circle cx="488.8" cy="215.2" r="4.0"/>
<circle cx="494.3" cy="214.8" r="4.0"/>
<circle cx="506.1" cy="215.2" r="4.0"/>
<circle cx="512.5" cy="215.6" r="4.0"/>
<circle cx="451.0" cy="220.5" r="4.0"/>
<circle cx="493.2" cy="220.9" r="4.0"/>
<circle cx="511.5" cy="219.5" r="4.0"/>
<circle cx="474.8" cy="226.5" r="4.0"/>
<circle cx="482.6" cy="225.9" r="4.0"/>
<circle cx="488.2" cy="225.9" r="4.0"/>
<circle cx="510.5" cy="226.8" r="4.0"/>
<circle cx="453.9" cy="231.8" r="4.0"/>
<circle cx="558.7" cy="164.0" r="4.0"/>
<circle cx="573.5" cy="164.0" r="4.0"/>
<circle cx="559.8" cy="170.1" r="4.0"/>
<circle cx="567.6" cy="173.9" r="4.0"/>
<circle cx="575.5" cy="172.0" r="4.0"/>
<circle cx="557.8" cy="180.2" r="4.0"/>
<circle cx="565.0" cy="179.3" r="4.0"/>
<circle cx="543.8" cy="182.8" r="4.0"/>
<circle cx="524.1" cy="189.6" r="4.0"/>
<circle cx="532.9" cy="186.8" r="4.0"/>
<circle cx="539.8" cy="187.8" r="4.0"/>
<circle cx="547.7" cy="187.8" r="4.0"/>
<circle cx="555.7" cy="186.8" r="4.0"/>
<circle cx="561.6" cy="185.8" r="4.0"/>
<circle cx="575.3" cy="191.7" r="4.0"/>
<circle cx="581.5" cy="188.8" r="4.0"/>
<circle cx="525.9" cy="195.7" r="4.0"/>
<circle cx="535.8" cy="194.7" r="4.0"/>
<circle cx="545.8" cy="194.7" r="4.0"/>
<circle cx="553.7" cy="193.7" r="4.0"/>
<circle cx="562.6" cy="195.7" r="4.0"/>
<circle cx="573.5" cy="197.7" r="4.0"/>
<circle cx="581.1" cy="202.3" r="4.0"/>
<circle cx="528.9" cy="201.7" r="4.0"/>
<circle cx="537.8" cy="201.7" r="4.0"/>
<circle cx="546.8" cy="201.7" r="4.0"/>
<circle cx="557.7" cy="201.7" r="4.0"/>
<circle cx="565.6" cy="200.7" r="4.0"/>
<circle cx="520.0" cy="209.6" r="4.0"/>
<circle cx="526.9" cy="208.6" r="4.0"/>
<circle cx="533.9" cy="207.6" r="4.0"/>
<circle cx="541.8" cy="206.6" r="4.0"/>
<circle cx="551.7" cy="206.6" r="4.0"/>
<circle cx="560.6" cy="207.6" r="4.0"/>
<circle cx="568.6" cy="209.6" r="4.0"/>
<circle cx="521.4" cy="214.9" r="4.0"/>
<circle cx="528.9" cy="214.6" r="4.0"/>
<circle cx="537.8" cy="213.6" r="4.0"/>
<circle cx="549.7" cy="212.6" r="4.0"/>
<circle cx="557.7" cy="213.6" r="4.0"/>
<circle cx="565.6" cy="214.6" r="4.0"/>
<circle cx="573.0" cy="214.2" r="4.0"/>
<circle cx="578.9" cy="214.6" r="4.0"/>
<circle cx="520.4" cy="225.6" r="4.0"/>
<circle cx="527.9" cy="221.5" r="4.0"/>
<circle cx="535.8" cy="219.5" r="4.0"/>
<circle cx="543.8" cy="221.5" r="4.0"/>
<circle cx="548.7" cy="225.5" r="4.0"/>
<circle cx="561.6" cy="225.5" r="4.0"/>
<circle cx="566.6" cy="226.6" r="4.0"/>
<circle cx="582.1" cy="225.1" r="4.0"/>
<circle cx="520.0" cy="231.8" r="4.0"/>
<circle cx="599.9" cy="164.0" r="4.0"/>
<circle cx="605.8" cy="164.0" r="4.0"/>
<circle cx="611.8" cy="164.0" r="4.0"/>
<circle cx="618.5" cy="163.2" r="4.0"/>
<circle cx="638.8" cy="163.6" r="4.0"/>
<circle cx="605.8" cy="169.9" r="4.0"/>
<circle cx="615.6" cy="168.2" r="4.0"/>
<circle cx="592.0" cy="174.9" r="4.0"/>
<circle cx="597.8" cy="174.9" r="4.0"/>
<circle cx="607.8" cy="176.9" r="4.0"/>
<circle cx="629.6" cy="173.8" r="4.0"/>
<circle cx="595.7" cy="182.1" r="4.0"/>
<circle cx="605.8" cy="180.8" r="4.0"/>
<circle cx="615.8" cy="180.8" r="4.0"/>
<circle cx="625.0" cy="180.9" r="4.0"/>
<circle cx="631.6" cy="180.9" r="4.0"/>
<circle cx="589.0" cy="185.8" r="4.0"/>
<circle cx="604.8" cy="185.8" r="4.0"/>
<circle cx="610.8" cy="185.8" r="4.0"/>
<circle cx="595.7" cy="191.7" r="4.0"/>
<circle cx="619.4" cy="192.0" r="4.0"/>
<circle cx="627.8" cy="192.0" r="4.0"/>
<circle cx="592.0" cy="197.5" r="4.0"/>
<circle cx="608.5" cy="197.5" r="4.0"/>
<circle cx="646.7" cy="197.8" r="4.0"/>
<circle cx="588.5" cy="203.3" r="4.0"/>
<circle cx="605.0" cy="203.3" r="4.0"/>
<circle cx="590.0" cy="209.6" r="4.0"/>
<circle cx="596.5" cy="209.2" r="4.0"/>
<circle cx="605.1" cy="209.2" r="4.0"/>
<circle cx="611.8" cy="209.5" r="4.0"/>
<circle cx="639.8" cy="215.2" r="4.0"/>
<circle cx="586.1" cy="220.4" r="4.0"/>
<circle cx="588.8" cy="225.6" r="4.0"/>
<circle cx="621.7" cy="231.8" r="4.0"/>
<circle cx="524.5" cy="232.6" r="4.0"/>
<circle cx="533.9" cy="233.0" r="4.0"/>
<circle cx="541.8" cy="233.0" r="4.0"/>
<circle cx="532.3" cy="238.2" r="4.0"/>
<circle cx="539.0" cy="238.2" r="4.0"/>
<circle cx="547.7" cy="239.0" r="4.0"/>
<circle cx="553.7" cy="238.2" r="4.0"/>
<circle cx="561.5" cy="238.2" r="4.0"/>
<circle cx="542.9" cy="243.8" r="4.0"/>
<circle cx="551.5" cy="243.8" r="4.0"/>
<circle cx="523.4" cy="243.8" r="4.0"/>
<circle cx="518.5" cy="249.8" r="4.0"/>
<circle cx="528.0" cy="249.9" r="4.0"/>
<circle cx="545.1" cy="249.9" r="4.0"/>
<circle cx="558.0" cy="249.9" r="4.0"/>
<circle cx="581.0" cy="232.8" r="4.0"/>
<circle cx="536.5" cy="255.8" r="4.0"/>
<circle cx="563.8" cy="255.8" r="4.0"/>
<circle cx="584.0" cy="255.8" r="4.0"/>
<circle cx="515.9" cy="261.3" r="4.0"/>
<circle cx="535.7" cy="266.9" r="4.0"/>
<circle cx="561.9" cy="267.2" r="4.0"/>
<circle cx="521.5" cy="272.3" r="4.0"/>
<circle cx="521.7" cy="284.3" r="4.0"/>
<circle cx="613.8" cy="238.3" r="4.0"/>
<circle cx="639.6" cy="238.3" r="4.0"/>
<circle cx="647.5" cy="243.9" r="4.0"/>
<circle cx="584.5" cy="128.7" r="4.0"/>
<circle cx="651.2" cy="134.4" r="4.0"/>
<circle cx="593.9" cy="133.7" r="4.0"/>
<circle cx="608.5" cy="134.4" r="4.0"/>
<circle cx="592.3" cy="139.6" r="4.0"/>
<circle cx="600.1" cy="139.4" r="4.0"/>
<circle cx="607.5" cy="139.5" r="4.0"/>
<circle cx="623.4" cy="140.3" r="4.0"/>
<circle cx="630.3" cy="139.6" r="4.0"/>
<circle cx="588.0" cy="145.6" r="4.0"/>
<circle cx="615.8" cy="145.6" r="4.0"/>
<circle cx="625.7" cy="144.6" r="4.0"/>
<circle cx="633.7" cy="146.3" r="4.0"/>
<circle cx="614.5" cy="150.6" r="4.0"/>
<circle cx="625.7" cy="151.5" r="4.0"/>
<circle cx="633.2" cy="151.2" r="4.0"/>
<circle cx="597.9" cy="156.5" r="4.0"/>
<circle cx="605.9" cy="158.0" r="4.0"/>
<circle cx="639.2" cy="156.9" r="4.0"/>
<circle cx="644.0" cy="156.9" r="4.0"/>
<circle cx="617.7" cy="160.5" r="4.0"/>
<circle cx="625.7" cy="160.5" r="4.0"/>
<circle cx="682.8" cy="140.2" r="4.0"/>
<circle cx="513.5" cy="236.0" r="4.0"/>
<circle cx="511.5" cy="253.8" r="4.0"/>
<circle cx="509.5" cy="271.7" r="4.0"/>
<circle cx="505.5" cy="290.5" r="4.0"/>
<circle cx="509.5" cy="296.5" r="4.0"/>
<circle cx="514.0" cy="226.8" r="4.0"/>
<circle cx="506.0" cy="273.3" r="4.0"/>
<circle cx="506.0" cy="294.8" r="4.0"/>
<circle cx="499.3" cy="294.8" r="4.0"/>
<circle cx="546.3" cy="154.9" r="4.0"/>
<circle cx="556.5" cy="156.1" r="4.0"/>
<circle cx="587.1" cy="160.6" r="4.0"/>
<circle cx="564.1" cy="170.2" r="4.0"/>
<circle cx="570.5" cy="168.9" r="4.0"/>
<circle cx="575.6" cy="168.9" r="4.0"/>
<circle cx="579.4" cy="170.2" r="4.0"/>
<circle cx="560.3" cy="175.3" r="4.0"/>
<circle cx="566.7" cy="176.5" r="4.0"/>
<circle cx="571.8" cy="175.3" r="4.0"/>
<circle cx="577.5" cy="175.3" r="4.0"/>
<circle cx="583.3" cy="166.3" r="4.0"/>
<circle cx="588.4" cy="165.7" r="4.0"/>
<circle cx="580.7" cy="179.7" r="4.0"/>
<circle cx="587.1" cy="176.5" r="4.0"/>
<circle cx="615.5" cy="137.6" r="4.0"/>
<circle cx="633.4" cy="140.8" r="4.0"/>
<circle cx="623.2" cy="146.4" r="4.0"/>
<circle cx="628.3" cy="146.6" r="4.0"/>
<circle cx="609.1" cy="156.1" r="4.0"/>
<circle cx="620.0" cy="156.6" r="4.0"/>
<circle cx="625.8" cy="156.6" r="4.0"/>
<circle cx="600.2" cy="161.2" r="4.0"/>
<circle cx="601.5" cy="166.3" r="4.0"/>
<circle cx="607.9" cy="166.3" r="4.0"/>
<circle cx="621.9" cy="165.1" r="4.0"/>
<circle cx="602.8" cy="171.4" r="4.0"/>
<circle cx="610.4" cy="171.4" r="4.0"/>
<circle cx="616.8" cy="170.8" r="4.0"/>
<circle cx="592.6" cy="177.8" r="4.0"/>
<circle cx="600.2" cy="177.8" r="4.0"/>
<circle cx="614.2" cy="178.0" r="4.0"/>
<circle cx="621.9" cy="179.0" r="4.0"/>
<circle cx="628.3" cy="179.0" r="4.0"/>
<circle cx="590.0" cy="170.2" r="4.0"/>
<circle cx="602.8" cy="140.2" r="4.0"/>
<circle cx="601.5" cy="145.3" r="4.0"/>
<circle cx="591.3" cy="149.8" r="4.0"/>
<circle cx="611.0" cy="145.0" r="4.0"/>
<circle cx="577.7" cy="185.8" r="4.0"/>
<circle cx="582.8" cy="185.8" r="4.0"/>
<circle cx="571.3" cy="196.0" r="4.0"/>
<circle cx="575.1" cy="202.4" r="4.0"/>
<circle cx="594.9" cy="201.8" r="4.0"/>
<circle cx="585.3" cy="208.8" r="4.0"/>
<circle cx="570.0" cy="225.4" r="4.0"/>
<circle cx="523.4" cy="198.0" r="4.0"/>
<circle cx="497.5" cy="215.0" r="4.0"/>
<circle cx="511.9" cy="220.3" r="4.0"/>
<circle cx="518.3" cy="220.3" r="4.0"/>
<circle cx="492.8" cy="225.4" r="4.0"/>
<circle cx="530.5" cy="230.8" r="4.0"/>
<circle cx="538.2" cy="230.8" r="4.0"/>
<circle cx="543.3" cy="230.8" r="4.0"/>
<circle cx="548.4" cy="232.1" r="4.0"/>
<circle cx="506.3" cy="237.2" r="4.0"/>
<circle cx="544.5" cy="237.2" r="4.0"/>
<circle cx="512.7" cy="243.6" r="4.0"/>
<circle cx="545.8" cy="246.1" r="4.0"/>
<circle cx="510.1" cy="250.0" r="4.0"/>
<circle cx="507.6" cy="256.3" r="4.0"/>
<circle cx="512.7" cy="258.9" r="4.0"/>
<circle cx="508.8" cy="265.3" r="4.0"/>
<circle cx="551.3" cy="227.6" r="4.0"/>
<circle cx="580.6" cy="228.3" r="4.0"/>
<circle cx="587.0" cy="228.3" r="4.0"/>
<circle cx="584.4" cy="232.7" r="4.0"/>
<circle cx="557.0" cy="238.5" r="4.0"/>
<circle cx="618.8" cy="181.0" r="4.0"/>
<circle cx="613.1" cy="134.1" r="4.0"/>
<circle cx="605.4" cy="144.3" r="4.0"/>
<circle cx="627.1" cy="139.2" r="4.0"/>
<circle cx="613.7" cy="153.3" r="4.0"/>
</g>
<line x1="449" y1="295.5" x2="721.5" y2="44.3" stroke="#c0c0c0" stroke-width="3.4"/>
</svg>
</body></html>
